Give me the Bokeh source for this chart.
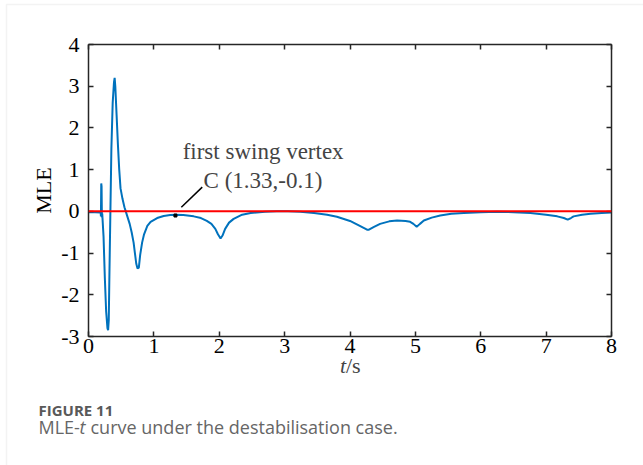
from bokeh.plotting import figure
from bokeh.layouts import column
from bokeh.models import (LinearAxis, Span, Label, BoxAnnotation, Range1d,
                          FixedTicker, ColumnDataSource)
from bokeh.embed import file_html
from bokeh.resources import INLINE

# Maximum Lyapunov exponent over time (destabilisation case)
t_s = [0.00, 0.10, 0.18, 0.185, 0.19, 0.195, 0.20, 0.205, 0.21, 0.23, 0.25,
       0.27, 0.29, 0.30, 0.31, 0.32, 0.335, 0.35, 0.37, 0.39, 0.40, 0.41,
       0.43, 0.45, 0.47, 0.49, 0.52, 0.55, 0.57, 0.60, 0.63, 0.66, 0.69,
       0.71, 0.73, 0.75, 0.77, 0.79, 0.82, 0.85, 0.90, 0.95, 1.05, 1.15,
       1.25, 1.33, 1.45, 1.61, 1.72, 1.81, 1.88, 1.94, 1.98, 2.02, 2.05,
       2.09, 2.15, 2.22, 2.35, 2.48, 2.70, 2.88, 3.05, 3.24, 3.45, 3.65,
       3.80, 4.00, 4.15, 4.26, 4.29, 4.36, 4.46, 4.60, 4.72, 4.85, 4.92,
       4.97, 5.02, 5.07, 5.13, 5.25, 5.38, 5.55, 5.74, 6.00, 6.25, 6.50,
       6.76, 7.00, 7.17, 7.27, 7.33, 7.38, 7.42, 7.55, 7.68, 7.85, 8.00]
mle = [-0.02, -0.02, -0.03, 0.00, -0.12, 0.67, 0.60, -0.15, -0.05, -0.60,
       -1.60, -2.40, -2.80, -2.85, -2.60, -1.50, 0.00, 1.50, 2.60, 3.10,
       3.20, 3.00, 2.30, 1.60, 1.00, 0.55, 0.30, 0.10, 0.00, -0.15, -0.30,
       -0.50, -0.75, -1.00, -1.25, -1.37, -1.35, -1.05, -0.75, -0.55, -0.35,
       -0.25, -0.16, -0.11, -0.09, -0.08, -0.09, -0.12, -0.16, -0.23, -0.30,
       -0.42, -0.55, -0.65, -0.58, -0.42, -0.27, -0.18, -0.08, -0.04, -0.01,
       0.00, 0.00, -0.01, -0.04, -0.08, -0.13, -0.23, -0.35, -0.44, -0.44,
       -0.38, -0.30, -0.24, -0.22, -0.23, -0.25, -0.30, -0.37, -0.30, -0.22,
       -0.15, -0.10, -0.06, -0.04, -0.02, -0.01, -0.02, -0.04, -0.08, -0.12,
       -0.16, -0.20, -0.16, -0.12, -0.08, -0.06, -0.04, -0.03]

x_ticks = [0, 1, 2, 3, 4, 5, 6, 7, 8]
y_ticks = [-3, -2, -1, 0, 1, 2, 3, 4]
y_tick_labels = {-3: "-3", -2: "-2", -1: "-1", 0: "0", 1: "1", 2: "2",
                 3: "3", 4: "4"}

vertex_t = [1.33]
vertex_mle = [-0.1]

SERIF = "Liberation Serif"
SANS = "Open Sans"
AXIS_COLOR = "#262626"
W, H = 643, 465

p = figure(width=W, height=H, output_backend="svg", toolbar_location=None,
           x_range=Range1d(0, 8), y_range=Range1d(-3, 4),
           min_border_left=88, min_border_right=32, min_border_top=44,
           min_border_bottom=129, x_axis_location=None, y_axis_location=None)
p.grid.visible = False
p.outline_line_color = None
p.background_fill_color = "white"
p.border_fill_color = "white"


def make_axis(ticks, show_labels):
    ax = LinearAxis(ticker=FixedTicker(ticks=ticks))
    ax.axis_line_color = AXIS_COLOR
    ax.axis_line_width = 1.5
    ax.major_tick_line_color = AXIS_COLOR
    ax.major_tick_line_width = 1.5
    ax.major_tick_in = 5
    ax.major_tick_out = 0
    ax.minor_tick_line_color = None
    ax.major_label_text_font = SERIF
    ax.major_label_text_font_size = "22px"
    ax.major_label_text_color = "black" if show_labels else None
    ax.axis_label_text_font = SERIF
    ax.axis_label_text_font_size = "22px"
    ax.axis_label_text_font_style = "normal"
    ax.axis_label_text_color = "black"
    return ax


bottom = make_axis(x_ticks, True)
top = make_axis(x_ticks, False)
left = make_axis(y_ticks, True)
right = make_axis(y_ticks, False)
bottom.major_label_standoff = 2
left.major_label_standoff = 9
left.major_label_overrides = y_tick_labels
left.axis_label = "MLE"
left.axis_label_standoff = 2
p.add_layout(bottom, "below")
p.add_layout(top, "above")
p.add_layout(left, "left")
p.add_layout(right, "right")

# MLE curve and zero reference
src = ColumnDataSource(data=dict(t=t_s, mle=mle))
p.line("t", "mle", source=src, line_color="#0072BD", line_width=2)
p.add_layout(Span(location=0, dimension="width", line_color="#FF0000",
                  line_width=2))

# first swing vertex C
p.scatter(vertex_t, vertex_mle, marker="square", size=3, color="black")
p.segment(x0=[vertex_t[0] + 0.09], y0=[vertex_mle[0] + 0.2],
          x1=[vertex_t[0] + 0.41], y1=[vertex_mle[0] + 0.68],
          line_color="black", line_width=1.5)
p.add_layout(Label(x=1.44, y=1.44, text="first swing vertex",
                   text_font=SERIF, text_font_size="23px",
                   text_baseline="middle", text_align="left"))
p.add_layout(Label(x=1.76, y=0.74,
                   text=f"C ({vertex_t[0]:.2f},{vertex_mle[0]:.1f})",
                   text_font=SERIF, text_font_size="23px",
                   text_baseline="middle", text_align="left"))

# Transparent page-sized layer on top: x-axis title, caption and card edge
ov = figure(width=W, height=H, output_backend="svg", toolbar_location=None,
            x_range=Range1d(0, W), y_range=Range1d(H, 0),
            min_border=0, x_axis_location=None, y_axis_location=None,
            margin=(-H, 0, 0, 0))
ov.grid.visible = False
ov.outline_line_color = None
ov.background_fill_color = None
ov.border_fill_color = None
for fig in (p, ov):
    if "frame_align" in fig.properties():
        fig.frame_align = False

ov.add_layout(BoxAnnotation(left=6, top=4, right=W + 20, bottom=H + 20,
                            fill_color=None, line_color="#d6d6d6",
                            line_width=1.5))

ov.add_layout(Label(x=339.5, y=365, text="t", text_font=SERIF,
                    text_font_size="22px", text_font_style="italic",
                    text_baseline="alphabetic", text_align="left"))
ov.add_layout(Label(x=345.5, y=365, text="/s", text_font=SERIF,
                    text_font_size="22px",
                    text_baseline="alphabetic", text_align="left"))

ov.add_layout(Label(x=38, y=409, text="FIGURE 11", text_font=SANS,
                    text_font_size="15px", text_font_style="bold",
                    text_color="#595959", text_baseline="alphabetic"))
ov.add_layout(Label(x=38, y=426, text="MLE-", text_font=SANS,
                    text_font_size="18px", text_color="#666666",
                    text_baseline="alphabetic"))
ov.add_layout(Label(x=79, y=426, text="t", text_font=SANS,
                    text_font_size="18px", text_font_style="italic",
                    text_color="#666666", text_baseline="alphabetic"))
ov.add_layout(Label(x=90, y=426,
                    text=" curve under the destabilisation case.",
                    text_font=SANS, text_font_size="18px",
                    text_color="#666666", text_baseline="alphabetic"))

root = column(p, ov)
open("out.html", "w").write(file_html(root, INLINE))
